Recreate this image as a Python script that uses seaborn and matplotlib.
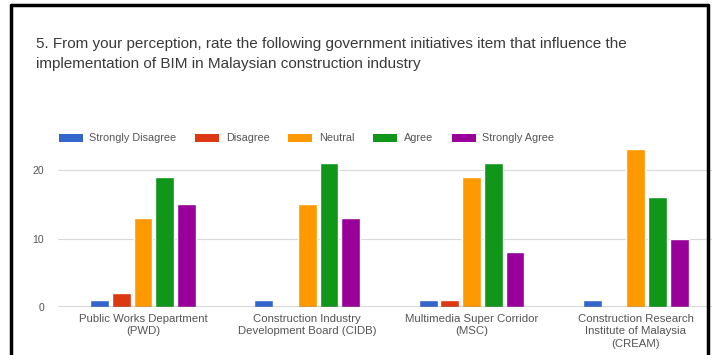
import matplotlib
matplotlib.use("Agg")
import matplotlib.pyplot as plt
import seaborn as sns
import pandas as pd
from matplotlib.patches import Patch
from matplotlib.lines import Line2D

title = ("5. From your perception, rate the following government initiatives item that influence the\n"
         "implementation of BIM in Malaysian construction industry")
categories = ["Public Works Department\n(PWD)",
              "Construction Industry\nDevelopment Board (CIDB)",
              "Multimedia Super Corridor\n(MSC)",
              "Construction Research\nInstitute of Malaysia\n(CREAM)"]
series = ["Strongly Disagree", "Disagree", "Neutral", "Agree", "Strongly Agree"]
strongly_disagree = [1, 1, 1, 1]
disagree = [2, 0, 1, 0]
neutral = [13, 15, 19, 23]
agree = [19, 21, 21, 16]
strongly_agree = [15, 13, 8, 10]
colors = ["#3366cc", "#dc3912", "#ff9900", "#109618", "#990099"]
yticks = [0, 10, 20]

values = [strongly_disagree, disagree, neutral, agree, strongly_agree]
rows = []
for s, vals in zip(series, values):
    for c, v in zip(categories, vals):
        rows.append({"category": c, "series": s, "value": v})
df = pd.DataFrame(rows)

sns.set_theme(style="white")
plt.rcParams["font.family"] = ["Liberation Sans", "DejaVu Sans"]

W, H = 712, 355
fig = plt.figure(figsize=(W / 100, H / 100), dpi=100)
fig.patch.set_facecolor("white")

ax_left = 58 / W
ax_bottom = (H - 307) / H
ax_w = (W - 58) / W
ymax = 24.5
ax_h = ymax * 6.85 / H
ax = fig.add_axes([ax_left, ax_bottom, ax_w, ax_h])

sns.barplot(data=df, x="category", y="value", hue="series", hue_order=series,
            order=categories, palette=colors, width=0.66, gap=0.13,
            saturation=1, ax=ax, legend=False)

ax.set_xlim(-0.517, 3.463)
ax.set_ylim(0, ymax)
ax.set_yticks(yticks)
ax.set_yticklabels([str(t) for t in yticks])
for t in yticks[1:]:
    ax.axhline(t, color="#d9d9d9", lw=0.8, zorder=0)
ax.axhline(0, color="#333333", lw=1.0, zorder=5)
for sp in ax.spines.values():
    sp.set_visible(False)
ax.set_xlabel("")
ax.set_ylabel("")
ax.tick_params(axis="y", length=0, pad=10, labelsize=7.5, labelcolor="#555555")
ax.tick_params(axis="x", length=0, pad=5, labelsize=8.2, labelcolor="#555555")
for lbl in ax.get_xticklabels():
    lbl.set_linespacing(1.3)

fig.text(36 / W, 1 - 37 / H, title, ha="left", va="top", fontsize=11,
         color="#3a3a3a", linespacing=1.55)

handles = [Patch(facecolor=c, edgecolor="none") for c in colors]
fig.legend(handles, series, loc="center left", bbox_to_anchor=(59 / W, 1 - 138.5 / H),
           ncol=5, frameon=False, fontsize=7.8, handlelength=2.2, handleheight=0.75,
           handletextpad=0.6, columnspacing=1.75, labelcolor="#555555",
           borderaxespad=0, borderpad=0)

# outer black frame
fig.add_artist(Line2D([11 / W, 11 / W], [0, 1 - 5 / H], transform=fig.transFigure, color="black", lw=2.5))
fig.add_artist(Line2D([11 / W, 708 / W], [1 - 5 / H, 1 - 5 / H], transform=fig.transFigure, color="black", lw=2.5))
fig.add_artist(Line2D([708 / W, 708 / W], [0, 1 - 5 / H], transform=fig.transFigure, color="black", lw=2.5))

fig.savefig("out.png", dpi=100, facecolor="white")
